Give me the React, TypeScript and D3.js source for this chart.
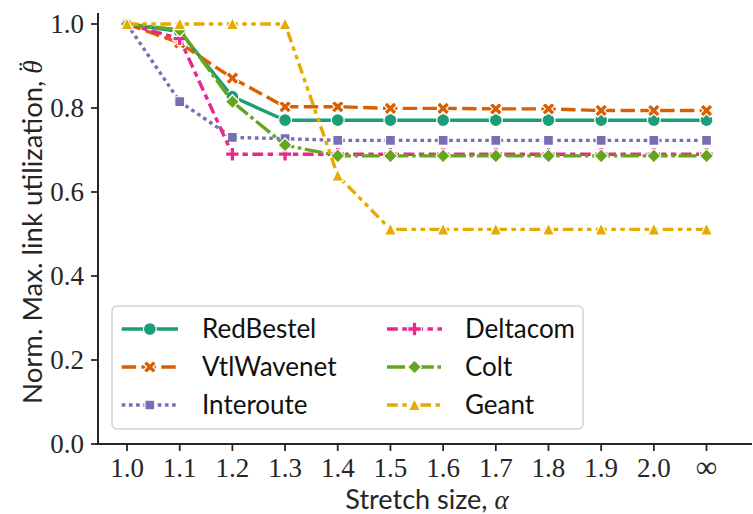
import React from "react";
import * as d3 from "d3";

// Stretch sizes (x categories) and normalized max link utilization per topology
const stretchLabels = ["1.0", "1.1", "1.2", "1.3", "1.4", "1.5", "1.6", "1.7", "1.8", "1.9", "2.0", "∞"];
const redBestel = [1.0, 0.982, 0.827, 0.771, 0.771, 0.771, 0.771, 0.771, 0.771, 0.771, 0.771, 0.771];
const vtlWavenet = [1.0, 0.955, 0.871, 0.803, 0.803, 0.799, 0.799, 0.798, 0.798, 0.794, 0.794, 0.794];
const interoute = [1.0, 0.815, 0.73, 0.727, 0.723, 0.723, 0.723, 0.723, 0.723, 0.723, 0.723, 0.723];
const deltacom = [1.0, 0.965, 0.69, 0.69, 0.69, 0.69, 0.69, 0.69, 0.69, 0.69, 0.69, 0.69];
const colt = [1.0, 0.986, 0.815, 0.712, 0.686, 0.686, 0.686, 0.686, 0.686, 0.686, 0.686, 0.686];
const geant = [1.0, 1.0, 1.0, 1.0, 0.639, 0.511, 0.511, 0.511, 0.511, 0.511, 0.511, 0.511];
const yTicks = [0, 0.2, 0.4, 0.6, 0.8, 1.0];

type MarkerKind = "circle" | "x" | "square" | "plus" | "diamond" | "triangle";

const series: { name: string; values: number[]; color: string; dash: number[]; marker: MarkerKind }[] = [
  { name: "RedBestel", values: redBestel, color: "#1b9e77", dash: [], marker: "circle" },
  { name: "VtlWavenet", values: vtlWavenet, color: "#d95f02", dash: [4, 1.5], marker: "x" },
  { name: "Interoute", values: interoute, color: "#7570b3", dash: [1, 1], marker: "square" },
  { name: "Deltacom", values: deltacom, color: "#e7298a", dash: [3, 1.25, 1.5, 1.25], marker: "plus" },
  { name: "Colt", values: colt, color: "#66a61e", dash: [5, 1, 1, 1], marker: "diamond" },
  { name: "Geant", values: geant, color: "#e6ab02", dash: [3, 1.25, 1.25, 1.25, 1.25, 1.25], marker: "triangle" },
];

const W = 753;
const H = 514;
const LW = 3.4;
const DASH = 3.6;
const MS = 14;
const INK = "#262626";
const SERIF = "'Liberation Serif', 'DejaVu Serif', serif";
const SANS = "Lato, 'Noto Sans', sans-serif";

const x = d3.scaleLinear().domain([-0.551, 11.863]).range([98, 752]);
const y = d3.scaleLinear().domain([0, 1.0262]).range([444, 13]);

function markerPath(kind: MarkerKind, s: number): string {
  const poly = (pts: number[][]) => "M" + pts.map((p) => `${p[0] * s},${p[1] * s}`).join("L") + "Z";
  switch (kind) {
    case "circle":
      return d3.symbol(d3.symbolCircle, Math.PI * (s / 2) * (s / 2) * 0.85)() as string;
    case "x":
      return poly(
        [[-1, -2], [0, -1], [1, -2], [2, -1], [1, 0], [2, 1], [1, 2], [0, 1], [-1, 2], [-2, 1], [-1, 0], [-2, -1]].map((p) => [p[0] / 4.3, p[1] / 4.3])
      );
    case "plus":
      return poly(
        [[-1, -3], [1, -3], [1, -1], [3, -1], [3, 1], [1, 1], [1, 3], [-1, 3], [-1, 1], [-3, 1], [-3, -1], [-1, -1]].map((p) => [p[0] / 6.2, p[1] / 6.2])
      );
    case "square": {
      const h = 0.5 / Math.SQRT2;
      return poly([[-h, -h], [h, -h], [h, h], [-h, h]]);
    }
    case "diamond":
      return poly([[0, -0.5], [0.5, 0], [0, 0.5], [-0.5, 0]]);
    case "triangle":
      return poly([[0, -0.45], [-0.42, 0.4], [0.42, 0.4]]);
  }
}

function Marker({ kind, color, cx, cy }: { kind: MarkerKind; color: string; cx: number; cy: number }) {
  return (
    <path
      d={markerPath(kind, MS)}
      transform={`translate(${cx},${cy})`}
      fill={color}
      stroke="#ffffff"
      strokeWidth={1.2}
    />
  );
}

const dashArray = (d: number[]) => (d.length ? d.map((v) => v * DASH).join(",") : undefined);

export default function App() {
  const line = d3
    .line<number>()
    .x((_, i) => x(i))
    .y((v) => y(v));

  const legendRows = [0, 1, 2];
  const rowY = (r: number) => 329 + r * 38;
  const legendCols = [
    { handle: [121.7, 178], text: 202 },
    { handle: [387, 442], text: 465 },
  ];

  return (
    <svg width={W} height={H} viewBox={`0 0 ${W} ${H}`} style={{ position: "absolute", left: 0, top: 0, background: "#fff" }}>
      <rect x={0} y={0} width={W} height={H} fill="#ffffff" />

      {/* series lines with markers */}
      {series.map((s) => (
        <g key={s.name}>
          <path
            d={line(s.values) as string}
            fill="none"
            stroke={s.color}
            strokeWidth={LW}
            strokeDasharray={dashArray(s.dash)}
            strokeLinejoin="round"
          />
          {s.values.map((v, i) => (
            <Marker key={i} kind={s.marker} color={s.color} cx={x(i)} cy={y(v)} />
          ))}
        </g>
      ))}

      {/* axes */}
      <line x1={98} x2={98} y1={13} y2={445} stroke={INK} strokeWidth={2} />
      <line x1={97} x2={752} y1={444} y2={444} stroke={INK} strokeWidth={2} />

      {yTicks.map((t) => (
        <g key={t}>
          <line x1={91} x2={98} y1={y(t)} y2={y(t)} stroke={INK} strokeWidth={1.8} />
          <text x={84} y={y(t) + 9} textAnchor="end" fontFamily={SERIF} fontSize={27} fill={INK}>
            {t.toFixed(1)}
          </text>
        </g>
      ))}

      {stretchLabels.map((lab, i) => (
        <g key={lab}>
          <line x1={x(i)} x2={x(i)} y1={444} y2={451} stroke={INK} strokeWidth={1.8} />
          <text x={x(i)} y={477} textAnchor="middle" fontFamily={SERIF} fontSize={lab === "∞" ? 30 : 27} fill={INK}>
            {lab}
          </text>
        </g>
      ))}

      <text x={427} y={509} textAnchor="middle" fontFamily={SANS} fontSize={27} fill={INK}>
        Stretch size,{" "}
        <tspan fontFamily={SERIF} fontStyle="italic">α</tspan>
      </text>

      <text
        transform="translate(42,232) rotate(-90)"
        textAnchor="middle"
        fontFamily={SANS}
        fontSize={27.5}
        fill={INK}
      >
        Norm. Max. link utilization,{" "}
        <tspan fontFamily={SERIF} fontStyle="italic">θ</tspan>
        <tspan fontFamily={SERIF} dx="-0.4em" dy="-0.2em">¨</tspan>
      </text>

      {/* legend */}
      <rect x={112} y={306} width={471} height={123} rx={5} ry={5} fill="#ffffff" fillOpacity={0.8} stroke="#d4d4d4" strokeWidth={1.5} />
      {series.map((s, k) => {
        const col = legendCols[Math.floor(k / 3)];
        const ry = rowY(legendRows[k % 3]);
        const mid = (col.handle[0] + col.handle[1]) / 2;
        return (
          <g key={s.name}>
            <line
              x1={col.handle[0]}
              x2={col.handle[1]}
              y1={ry}
              y2={ry}
              stroke={s.color}
              strokeWidth={LW}
              strokeDasharray={dashArray(s.dash)}
            />
            <Marker kind={s.marker} color={s.color} cx={mid} cy={ry} />
            <text x={col.text} y={ry + 9} fontFamily={SANS} fontSize={26} fill="#111">
              {s.name}
            </text>
          </g>
        );
      })}
    </svg>
  );
}
